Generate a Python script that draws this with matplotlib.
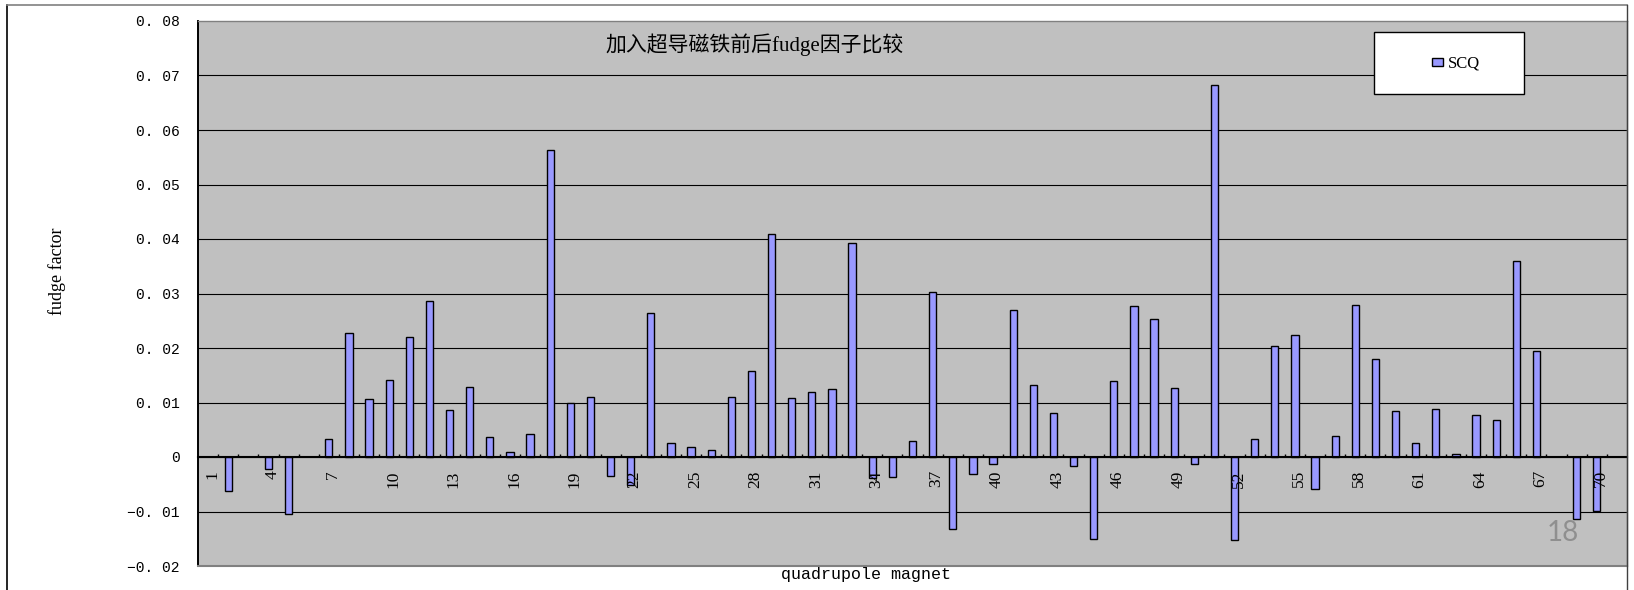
import numpy as np
import matplotlib
matplotlib.use("Agg")
import matplotlib.pyplot as plt
from matplotlib.lines import Line2D
from matplotlib.patches import Rectangle
from matplotlib.transforms import ScaledTranslation

# ---- data -------------------------------------------------------------
magnets = list(range(1, 72))
scq = [np.nan, -0.0063, np.nan, -0.0022, -0.0105, np.nan, 0.0033, 0.0227, 0.0106, 0.0141,
       0.0221, 0.0286, 0.0086, 0.0129, 0.0037, 0.0009, 0.0043, 0.0563, 0.0100, 0.0110,
       -0.0035, -0.0051, 0.0265, 0.0025, 0.0018, 0.0012, 0.0110, 0.0157, 0.0410, 0.0108,
       0.0119, 0.0124, 0.0392, -0.0039, -0.0037, 0.0029, 0.0302, -0.0133, -0.0031, -0.0012,
       0.0270, 0.0133, 0.0081, -0.0016, -0.0151, 0.0139, 0.0277, 0.0253, 0.0127, -0.0012,
       0.0682, -0.0153, 0.0033, 0.0204, 0.0223, -0.0059, 0.0039, 0.0278, 0.0180, 0.0084,
       0.0025, 0.0088, 0.0006, 0.0077, 0.0067, 0.0359, 0.0194, np.nan, -0.0114, -0.0099,
       np.nan]
labelled_magnets = list(range(1, 72, 3))
y_ticks = [-0.02, -0.01, 0.0, 0.01, 0.02, 0.03, 0.04, 0.05, 0.06, 0.07, 0.08]
y_tick_labels = ["\u22120. 02", "\u22120. 01", "0", "0. 01", "0. 02", "0. 03",
                 "0. 04", "0. 05", "0. 06", "0. 07", "0. 08"]
title = "加入超导磁铁前后fudge因子比较"
series_name = "SCQ"
x_title = "quadrupole magnet"
y_title = "fudge factor"
page_number = "18"

# ---- figure -----------------------------------------------------------
W, H, DPI = 1634, 590, 100
fig = plt.figure(figsize=(W / DPI, H / DPI), dpi=DPI, facecolor="white")

def fx(px):
    return px / W

def fy(py):
    return 1 - py / H

ax_l, ax_r, ax_t, ax_b = 198, 1627, 21, 566
ax = fig.add_axes([fx(ax_l), fy(ax_b), fx(ax_r - ax_l), (ax_b - ax_t) / H])
ax.set_facecolor("#C0C0C0")

ax.set_xlim(0.5, 71.5)
ax.set_ylim(-0.02, 0.08)

# horizontal gridlines behind the bars
for yv in y_ticks[1:-1]:
    ax.axhline(yv, color="black", linewidth=0.8, zorder=1)

ax.bar(magnets, scq, width=0.36, color="#9999FF", edgecolor="black",
       linewidth=1.0, zorder=3, label=series_name)

ax.set_yticks(y_ticks)
ax.set_yticklabels(y_tick_labels, family="Liberation Mono", fontsize=10.5)
ax.tick_params(axis="y", length=0, pad=13)

# category axis sits on zero, its labels drawn over the bars
ax.xaxis.set_zorder(5)
ax.spines["bottom"].set_position(("data", 0))
ax.spines["bottom"].set_color("black")
ax.spines["bottom"].set_linewidth(1.5)
ax.spines["bottom"].set_zorder(4)
ax.spines["left"].set_color("black")
ax.spines["left"].set_linewidth(1.4)
for side in ("top", "right"):
    ax.spines[side].set_color("#808080")
    ax.spines[side].set_linewidth(1.0)
ax.axhline(-0.02, color="#808080", linewidth=1.5, zorder=4, clip_on=False)

ax.set_xticks([k + 0.5 for k in magnets[:-1]])
ax.set_xticklabels([])
ax.tick_params(axis="x", which="major", direction="in", length=2, width=1,
               color="black")
ax.set_xticks(labelled_magnets, minor=True)
ax.set_xticklabels([str(k) for k in labelled_magnets], minor=True,
                   rotation=90, family="Liberation Serif", fontsize=12.5)
ax.tick_params(axis="x", which="minor", length=0, pad=9.5)
shift = ScaledTranslation(4 / DPI, 0, fig.dpi_scale_trans)
for lbl in ax.get_xticklabels(minor=True):
    lbl.set_transform(lbl.get_transform() + shift)

# titles
ax.set_title(title, x=(755 - ax_l) / (ax_r - ax_l), y=(ax_b - 45) / (ax_b - ax_t),
             pad=0, va="center", fontsize=15,
             family=["Liberation Serif", "Noto Sans CJK SC"])
ax.set_xlabel(x_title, family="Liberation Mono", fontsize=12, va="center")
ax.xaxis.set_label_coords((866 - ax_l) / (ax_r - ax_l), (ax_b - 574) / (ax_b - ax_t))
ax.set_ylabel(y_title, family="Liberation Serif", fontsize=13, va="center",
              rotation_mode="anchor")
ax.yaxis.set_label_coords((57 - ax_l) / (ax_r - ax_l), (ax_b - 271) / (ax_b - ax_t))

# legend box (white panel with the series key on top)
lx0, lx1, ly0, ly1 = 1374, 1524, 32, 94
ax.add_patch(Rectangle((fx(lx0), fy(ly1)), fx(lx1 - lx0), (ly1 - ly0) / H,
                       transform=fig.transFigure, facecolor="white",
                       edgecolor="black", linewidth=1.0, zorder=6, clip_on=False))
leg = ax.legend(loc="center", bbox_to_anchor=(fx(1456), fy(64)),
                bbox_transform=fig.transFigure, frameon=False,
                prop={"family": "Liberation Serif", "size": 12},
                handlelength=0.7, handleheight=0.3, handletextpad=0.3,
                borderpad=0)
leg.set_zorder(7)

# chart frame
fig.add_artist(Line2D([fx(7), fx(7)], [fy(5), 0], transform=fig.transFigure,
                      color="black", linewidth=1.2))
fig.add_artist(Line2D([fx(7), fx(1627)], [fy(5), fy(5)], transform=fig.transFigure,
                      color="#808080", linewidth=1.2))
fig.add_artist(Line2D([fx(1627), fx(1627)], [fy(5), 0], transform=fig.transFigure,
                      color="#404040", linewidth=1.0))

# slide page number
fig.text(fx(1563), fy(533), page_number, ha="center", va="center",
         family="Lato", fontsize=20, color="#8f8f8f", zorder=7)

fig.savefig("out.png", dpi=DPI, facecolor="white")
